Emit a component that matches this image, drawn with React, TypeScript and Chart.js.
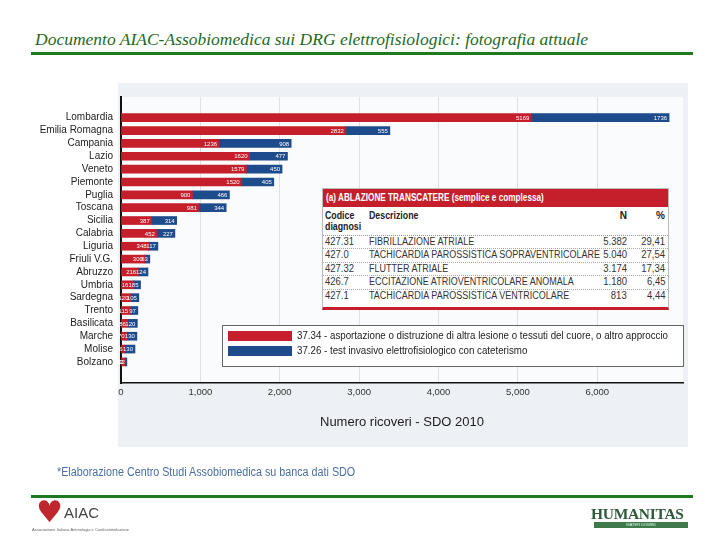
import React, { useEffect, useRef } from 'react';
import { Chart, registerables } from 'chart.js';
Chart.register(...registerables);

const regions = ['Lombardia', 'Emilia Romagna', 'Campania', 'Lazio', 'Veneto', 'Piemonte', 'Puglia', 'Toscana', 'Sicilia', 'Calabria', 'Liguria', 'Friuli V.G.', 'Abruzzo', 'Umbria', 'Sardegna', 'Trento', 'Basilicata', 'Marche', 'Molise', 'Bolzano'];
const ablation3734 = [5169, 2832, 1236, 1620, 1579, 1520, 900, 981, 387, 452, 348, 300, 216, 161, 120, 115, 86, 70, 46, 52];
const eps3726 = [1736, 555, 908, 477, 450, 405, 466, 344, 314, 227, 117, 63, 124, 85, 105, 97, 120, 130, 130, 22];
const seriesLabels = [
  '37.34 - asportazione o distruzione di altra lesione o tessuti del cuore, o altro approccio',
  '37.26 - test invasivo elettrofisiologico con cateterismo',
];
const xTicks = [0, 1000, 2000, 3000, 4000, 5000, 6000];

const tableCodes = ['427.31', '427.0', '427.32', '426.7', '427.1'];
const tableDescriptions = ['FIBRILLAZIONE ATRIALE', 'TACHICARDIA PAROSSISTICA SOPRAVENTRICOLARE', 'FLUTTER ATRIALE', 'ECCITAZIONE ATRIOVENTRICOLARE ANOMALA', 'TACHICARDIA PAROSSISTICA VENTRICOLARE'];
const tableN = ['5.382', '5.040', '3.174', '1.180', '813'];
const tablePct = ['29,41', '27,54', '17,34', '6,45', '4,44'];

const RED = '#c41f2b';
const BLUE = '#1d4b8b';
const GREEN = '#1f7a1f';
const SANS = "'Liberation Sans', sans-serif";

const backgroundPlugin = {
  id: 'bgPanel',
  beforeDraw(chart: any) {
    const { ctx, chartArea } = chart;
    ctx.save();
    ctx.fillStyle = '#edf0f4';
    ctx.fillRect(118, 83, 570, 364);
    ctx.fillStyle = '#ffffff';
    ctx.fillRect(0, 83, 118, 364);
    ctx.fillStyle = '#fafbfc';
    ctx.fillRect(chartArea.left, chartArea.top, chartArea.right - chartArea.left, chartArea.bottom - chartArea.top);
    ctx.restore();
  },
};

const valueLabelPlugin = {
  id: 'valueLabels',
  afterDatasetsDraw(chart: any) {
    const ctx = chart.ctx;
    ctx.save();
    ctx.font = `6px ${SANS}`;
    ctx.fillStyle = '#ffffff';
    ctx.textAlign = 'right';
    ctx.textBaseline = 'middle';
    chart.data.datasets.forEach((ds: any, di: number) => {
      const meta = chart.getDatasetMeta(di);
      meta.data.forEach((bar: any, i: number) => {
        const v = ds.data[i].x;
        const p = bar.getProps(['x', 'y'], true);
        ctx.fillText(String(v), p.x - 2, p.y + 0.5);
      });
    });
    ctx.restore();
  },
};

const legendBoxPlugin = {
  id: 'legendBox',
  afterDraw(chart: any) {
    const ctx = chart.ctx;
    ctx.save();
    ctx.fillStyle = '#ffffff';
    ctx.fillRect(222, 325, 461, 41);
    ctx.strokeStyle = '#666';
    ctx.lineWidth = 1;
    ctx.strokeRect(222.5, 325.5, 461, 41);
    ctx.font = `10.5px ${SANS}`;
    const firstW = ctx.measureText(chart.data.datasets[0].label).width;
    const ratio = Math.min(1, 371 / firstW);
    chart.data.datasets.forEach((ds: any, di: number) => {
      const y = 331 + di * 15;
      ctx.fillStyle = ds.backgroundColor;
      ctx.fillRect(228, y, 64, 10);
      ctx.fillStyle = '#222';
      ctx.textAlign = 'left';
      ctx.textBaseline = 'middle';
      ctx.save();
      ctx.translate(297, y + 5.5);
      ctx.scale(ratio, 1);
      ctx.fillText(ds.label, 0, 0);
      ctx.restore();
    });
    ctx.restore();
  },
};

const squeeze = (k: number): React.CSSProperties => ({ display: 'inline-block', transform: `scaleX(${k})`, transformOrigin: 'left center', whiteSpace: 'nowrap' });
const squeezeR = (k: number): React.CSSProperties => ({ display: 'inline-block', transform: `scaleX(${k})`, transformOrigin: 'right center', whiteSpace: 'nowrap' });

export default function App() {
  const ref = useRef<HTMLCanvasElement>(null);
  useEffect(() => {
    const chart = new Chart(ref.current!, {
      type: 'bar',
      data: {
        datasets: [
          { label: seriesLabels[0], data: ablation3734.map((v, i) => ({ x: v, y: i })), backgroundColor: RED, barThickness: 8 } as any,
          { label: seriesLabels[1], data: eps3726.map((v, i) => ({ x: v, y: i })), backgroundColor: BLUE, barThickness: 8 } as any,
        ],
      },
      options: {
        indexAxis: 'y',
        animation: false,
        responsive: false,
        devicePixelRatio: 1,
        layout: { padding: { top: 97, right: 37, left: 0, bottom: 0 } },
        plugins: { legend: { display: false }, tooltip: { enabled: false } },
        scales: {
          x: {
            type: 'linear',
            min: 0,
            max: 7080,
            bounds: 'data',
            stacked: true,
            afterBuildTicks: (s: any) => { s.ticks = xTicks.map((v) => ({ value: v })); },
            afterFit: (s: any) => { s.height = 157; },
            grid: { color: '#dde1e7', drawTicks: false, lineWidth: 1 },
            border: { color: '#111', width: 1.5 },
            ticks: {
              padding: 4,
              color: '#333',
              font: { family: SANS, size: 9.5 },
              callback: (v: any) => Number(v).toLocaleString('en-US'),
            },
            title: {
              display: true,
              text: 'Numero ricoveri - SDO 2010',
              color: '#222',
              font: { family: SANS, size: 13 },
              padding: { top: 0, bottom: 110 },
            },
          },
          y: {
            type: 'linear',
            reverse: true,
            offset: false,
            min: -1.61,
            max: 20.64,
            bounds: 'data',
            stacked: true,
            afterBuildTicks: (s: any) => { s.ticks = regions.map((_, i) => ({ value: i })); },
            afterFit: (s: any) => { s.width = 121; },
            grid: { display: false, drawTicks: false, offset: false },
            border: { color: '#111', width: 2 },
            ticks: {
              autoSkip: false,
              padding: 8,
              color: '#222',
              font: { family: SANS, size: 10 },
              callback: (v: any) => regions[v] ?? '',
            },
          },
        },
      } as any,
      plugins: [backgroundPlugin, valueLabelPlugin, legendBoxPlugin],
    });
    return () => chart.destroy();
  }, []);

  return (
    <div style={{ position: 'absolute', left: 0, top: 0, width: 720, height: 540, background: '#fff', overflow: 'hidden' }}>
      <div style={{ position: 'absolute', left: 35, top: 29, fontFamily: "'Liberation Serif', serif", fontStyle: 'italic', fontSize: 17.5, color: '#236b23', whiteSpace: 'nowrap' }}>
        Documento AIAC-Assobiomedica sui DRG elettrofisiologici: fotografia attuale
      </div>
      <div style={{ position: 'absolute', left: 31, top: 52, width: 662, height: 3, background: GREEN }} />
      <canvas ref={ref} width={720} height={540} style={{ position: 'absolute', left: 0, top: 0, width: 720, height: 540 }} />
      <div style={{ position: 'absolute', left: 322, top: 188, width: 347, height: 122, background: '#fff', border: '1px solid #bbb', borderBottom: `3px solid ${RED}`, boxSizing: 'border-box', fontFamily: SANS, color: '#333' }}>
        <div style={{ background: RED, color: '#fff', fontWeight: 'bold', fontSize: 10, height: 18, lineHeight: '18px', paddingLeft: 3 }}>
          <span style={squeeze(0.82)}>(a) ABLAZIONE TRANSCATERE (semplice e complessa)</span>
        </div>
        <div style={{ position: 'relative', height: 28, fontWeight: 'bold', fontSize: 10, color: '#222', borderBottom: '1px dotted #999' }}>
          <div style={{ position: 'absolute', left: 2, top: 3, lineHeight: '11px' }}><span style={squeeze(0.88)}>Codice</span><br /><span style={squeeze(0.88)}>diagnosi</span></div>
          <div style={{ position: 'absolute', left: 46, top: 3, lineHeight: '11px' }}><span style={squeeze(0.88)}>Descrizione</span></div>
          <div style={{ position: 'absolute', right: 41, top: 3, lineHeight: '11px' }}>N</div>
          <div style={{ position: 'absolute', right: 3, top: 3, lineHeight: '11px' }}>%</div>
        </div>
        {tableCodes.map((code, i) => (
          <div key={code} style={{ position: 'relative', height: 12.4, lineHeight: '12px', fontSize: 10, borderBottom: i < tableCodes.length - 1 ? '1px dotted #aaa' : 'none', whiteSpace: 'nowrap' }}>
            <div style={{ position: 'absolute', left: 2 }}><span style={squeeze(0.95)}>{code}</span></div>
            <div style={{ position: 'absolute', left: 46 }}><span style={squeeze(0.9)}>{tableDescriptions[i]}</span></div>
            <div style={{ position: 'absolute', right: 41 }}><span style={squeezeR(0.95)}>{tableN[i]}</span></div>
            <div style={{ position: 'absolute', right: 3 }}><span style={squeezeR(0.95)}>{tablePct[i]}</span></div>
          </div>
        ))}
      </div>
      <div style={{ position: 'absolute', left: 57, top: 465, fontFamily: SANS, fontSize: 12.5, color: '#4a6fa5', whiteSpace: 'nowrap' }}>
        <span style={squeeze(0.86)}>*Elaborazione Centro Studi Assobiomedica su banca dati SDO</span>
      </div>
      <div style={{ position: 'absolute', left: 31, top: 495, width: 662, height: 3, background: GREEN }} />
      <div style={{ position: 'absolute', left: 36, top: 500, width: 70, height: 34 }}>
        <div style={{ position: 'absolute', left: 0, top: -4, fontSize: 30, color: '#c0272d', fontFamily: "'DejaVu Sans', sans-serif", lineHeight: '32px' }}>♥</div>
        <div style={{ position: 'absolute', left: 28, top: 5, fontSize: 15, color: '#444', fontFamily: SANS, lineHeight: '16px' }}>AIAC</div>
        <div style={{ position: 'absolute', left: -4, top: 27, fontSize: 4, color: '#666', fontFamily: SANS, whiteSpace: 'nowrap' }}>Associazione Italiana Aritmologia e Cardiostimolazione</div>
      </div>
      <div style={{ position: 'absolute', left: 591, top: 505, width: 100, height: 24 }}>
        <div style={{ fontFamily: "'Liberation Serif', serif", fontWeight: 'bold', fontSize: 15.5, color: '#2e5a3a', lineHeight: '17px', letterSpacing: -0.3 }}>HUMANITAS</div>
        <div style={{ marginLeft: 3, width: 94, height: 6, background: '#3f7a4a', color: '#dfe', fontSize: 4, lineHeight: '6px', textAlign: 'center', fontFamily: SANS }}>MATER DOMINI</div>
      </div>
    </div>
  );
}
